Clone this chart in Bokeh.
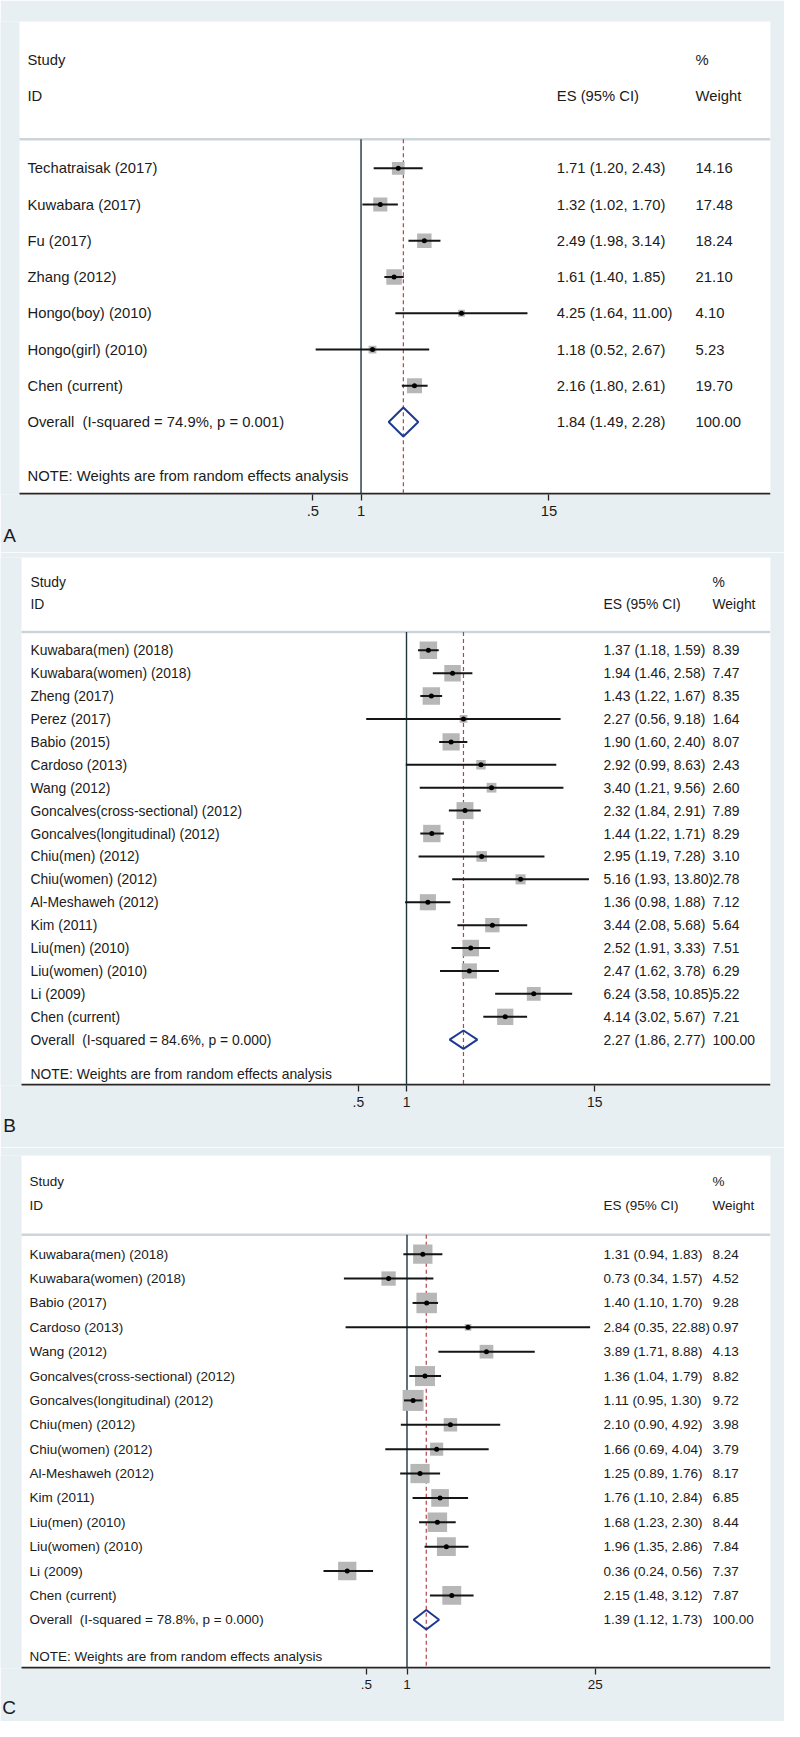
import math
from bokeh.plotting import figure
from bokeh.models import ColumnDataSource, Range1d, FixedTicker, LogAxis, CustomJSTickFormatter
from bokeh.layouts import column
from bokeh.core.properties import value
from bokeh.embed import file_html
from bokeh.resources import INLINE

# ---------------- data ----------------
# Panel A
studies_a = ["Techatraisak (2017)", "Kuwabara (2017)", "Fu (2017)", "Zhang (2012)",
             "Hongo(boy) (2010)", "Hongo(girl) (2010)", "Chen (current)"]
es_a = [1.71, 1.32, 2.49, 1.61, 4.25, 1.18, 2.16]
lo_a = [1.20, 1.02, 1.98, 1.40, 1.64, 0.52, 1.80]
hi_a = [2.43, 1.70, 3.14, 1.85, 11.00, 2.67, 2.61]
w_a = [14.16, 17.48, 18.24, 21.10, 4.10, 5.23, 19.70]
overall_a = [1.84, 1.49, 2.28]
i2_a, p_a = 74.9, 0.001
ticks_a = [0.5, 1, 15]
ticklabels_a = [".5", "1", "15"]

# Panel B
studies_b = ["Kuwabara(men) (2018)", "Kuwabara(women) (2018)", "Zheng (2017)", "Perez (2017)",
             "Babio (2015)", "Cardoso (2013)", "Wang (2012)", "Goncalves(cross-sectional) (2012)",
             "Goncalves(longitudinal) (2012)", "Chiu(men) (2012)", "Chiu(women) (2012)",
             "Al-Meshaweh (2012)", "Kim (2011)", "Liu(men) (2010)", "Liu(women) (2010)",
             "Li (2009)", "Chen (current)"]
es_b = [1.37, 1.94, 1.43, 2.27, 1.90, 2.92, 3.40, 2.32, 1.44, 2.95, 5.16, 1.36, 3.44, 2.52, 2.47, 6.24, 4.14]
lo_b = [1.18, 1.46, 1.22, 0.56, 1.60, 0.99, 1.21, 1.84, 1.22, 1.19, 1.93, 0.98, 2.08, 1.91, 1.62, 3.58, 3.02]
hi_b = [1.59, 2.58, 1.67, 9.18, 2.40, 8.63, 9.56, 2.91, 1.71, 7.28, 13.80, 1.88, 5.68, 3.33, 3.78, 10.85, 5.67]
w_b = [8.39, 7.47, 8.35, 1.64, 8.07, 2.43, 2.60, 7.89, 8.29, 3.10, 2.78, 7.12, 5.64, 7.51, 6.29, 5.22, 7.21]
overall_b = [2.27, 1.86, 2.77]
i2_b, p_b = 84.6, 0.000
ticks_b = [0.5, 1, 15]
ticklabels_b = [".5", "1", "15"]

# Panel C
studies_c = ["Kuwabara(men) (2018)", "Kuwabara(women) (2018)", "Babio (2017)", "Cardoso (2013)",
             "Wang (2012)", "Goncalves(cross-sectional) (2012)", "Goncalves(longitudinal) (2012)",
             "Chiu(men) (2012)", "Chiu(women) (2012)", "Al-Meshaweh (2012)", "Kim (2011)",
             "Liu(men) (2010)", "Liu(women) (2010)", "Li (2009)", "Chen (current)"]
es_c = [1.31, 0.73, 1.40, 2.84, 3.89, 1.36, 1.11, 2.10, 1.66, 1.25, 1.76, 1.68, 1.96, 0.36, 2.15]
lo_c = [0.94, 0.34, 1.10, 0.35, 1.71, 1.04, 0.95, 0.90, 0.69, 0.89, 1.10, 1.23, 1.35, 0.24, 1.48]
hi_c = [1.83, 1.57, 1.70, 22.88, 8.88, 1.79, 1.30, 4.92, 4.04, 1.76, 2.84, 2.30, 2.86, 0.56, 3.12]
w_c = [8.24, 4.52, 9.28, 0.97, 4.13, 8.82, 9.72, 3.98, 3.79, 8.17, 6.85, 8.44, 7.84, 7.37, 7.87]
overall_c = [1.39, 1.12, 1.73]
i2_c, p_c = 78.8, 0.000
ticks_c = [0.5, 1, 25]
ticklabels_c = [".5", "1", "25"]

note_text = "NOTE: Weights are from random effects analysis"
header_left = ["Study", "ID"]
header_right = ["%", "ES (95% CI)", "Weight"]
panel_letters = ["A", "B", "C"]

# ---------------- style ----------------
BG = "#e8eff3"
FONT = "Liberation Sans"
TXT = "#1b1b1b"
BOX = "#b7b7b7"
NULLC = "#1f3640"
RED = "#b5424a"
NAVY = "#1d3a8f"
SEP = "#cdd5d9"
AXC = "#2a2424"
PAGE_W = 784


def make_panel(names, es, lo, hi, w, overall, i2, pval, ticks, ticklabels, letter, g):
    n = len(names)
    H = g["height"]
    L, R, X1, K = g["L"], g["R"], g["X1"], g["K"]
    T, B = g["T"], g["B"]
    top_row, bot_row = -4.05, n + 2
    sep = -0.8

    def xd(px):
        return math.exp((px - X1) / K)

    p = figure(width=PAGE_W, height=H, x_axis_type="log",
               x_range=Range1d(xd(8), xd(R)), y_range=Range1d(bot_row, top_row),
               output_backend="svg", toolbar_location=None,
               min_border_left=0, min_border_right=PAGE_W + 8 - R,
               min_border_top=T - g["fig_top"], min_border_bottom=g["fig_top"] + H - B,
               background_fill_color=BG, border_fill_color=BG,
               outline_line_color=None, y_axis_location=None)
    p.xgrid.visible = False
    p.ygrid.visible = False

    # white plot panel
    p.quad(left=[xd(L)], right=[xd(R)], top=[top_row], bottom=[bot_row],
           fill_color="white", line_color=None)

    fs = g["fs"]
    ax = p.xaxis[0]
    ax.ticker = FixedTicker(ticks=ticks)
    ax.formatter = CustomJSTickFormatter(
        args=dict(t=ticks, l=ticklabels),
        code="for (let i = 0; i < t.length; i++) { if (Math.abs(t[i] - tick) < 1e-9) return l[i]; } return '';")
    ax.minor_tick_line_color = None
    ax.major_tick_in = 0
    ax.major_tick_out = 6
    ax.major_tick_line_color = AXC
    ax.major_tick_line_width = 1.3
    ax.axis_line_color = None
    ax.major_label_text_font = FONT
    ax.major_label_text_font_size = f"{fs}px"
    ax.major_label_text_color = TXT
    ax.major_label_standoff = 5

    # axis line across the white panel (half clipped at frame edge)
    p.segment(x0=[xd(L)], x1=[xd(R)], y0=[bot_row], y1=[bot_row],
              line_color=AXC, line_width=3.4)

    # panel letter as a second axis label
    ax2 = LogAxis(ticker=FixedTicker(ticks=[xd(g["letter_x"])]),
                  formatter=CustomJSTickFormatter(args=dict(s=letter), code="return s;"),
                  axis_line_color=None, major_tick_line_color=None,
                  minor_tick_line_color=None, major_tick_in=0, major_tick_out=0,
                  major_label_standoff=g["letter_standoff"],
                  major_label_text_font=FONT, major_label_text_font_size="19px",
                  major_label_text_color=TXT)
    p.add_layout(ax2, "below")

    # header separator
    p.segment(x0=[xd(L)], x1=[xd(R)], y0=[sep], y1=[sep], line_color=SEP, line_width=2.5)

    # null line and overall line
    p.segment(x0=[1], x1=[1], y0=[sep], y1=[bot_row], line_color=NULLC, line_width=1.4)
    p.segment(x0=[overall[0]], x1=[overall[0]], y0=[sep], y1=[bot_row],
              line_color=RED, line_width=1.2, line_dash="4 3")

    rows = list(range(n))
    wmax = max(w)
    src = ColumnDataSource(dict(
        y=rows, es=es, lo=lo, hi=hi,
        box=[g["maxbox"] * math.sqrt(v / wmax) for v in w]))
    p.scatter(x="es", y="y", size="box", marker="square", fill_color=BOX,
              line_color=None, source=src)
    p.segment(x0="lo", x1="hi", y0="y", y1="y", line_color="#151515",
              line_width=2, source=src)
    p.scatter(x="es", y="y", size=5, marker="circle", fill_color="black",
              line_color=None, source=src)

    # overall diamond
    h = 0.4
    ov_es, ov_lo, ov_hi = overall
    p.patch(x=[ov_lo, ov_es, ov_hi, ov_es, ov_lo], y=[n, n - h, n, n + h, n],
            fill_color=None, line_color=NAVY, line_width=2)

    # text columns
    labels = names + [f"Overall\u00a0 (I-squared = {i2:.1f}%, p = {pval:.3f})"]
    es_txt = [f"{e:.2f} ({a:.2f}, {b:.2f})" for e, a, b in zip(es, lo, hi)] + \
             [f"{ov_es:.2f} ({ov_lo:.2f}, {ov_hi:.2f})"]
    w_txt = [f"{v:.2f}" for v in w] + ["100.00"]
    tsrc = ColumnDataSource(dict(y=rows + [n], name=labels, est=es_txt, wt=w_txt))
    common = dict(text_font=value(FONT), text_font_size=value(f"{fs}px"),
                  text_color=TXT, text_baseline="middle", text_align="left")
    p.text(x=xd(g["name_x"]), y="y", text="name", source=tsrc, **common)
    p.text(x=xd(g["es_x"]), y="y", text="est", source=tsrc, **common)
    p.text(x=xd(g["w_x"]), y="y", text="wt", source=tsrc, **common)

    hsrc = ColumnDataSource(dict(
        x=[xd(g["name_x"]), xd(g["name_x"]), xd(g["w_x"]), xd(g["es_x"]), xd(g["w_x"])],
        y=[-3, -2, -3, -2, -2],
        t=header_left + header_right))
    p.text(x="x", y="y", text="t", source=hsrc, **common)
    p.text(x=[xd(g["name_x"])], y=[n + 1.5], text=[note_text], **common)
    return p


gA = dict(height=552, fig_top=8, T=29, B=502, L=27, R=779, X1=369, K=69.5,
          fs=14.8, name_x=35, es_x=565, w_x=704, maxbox=15.5,
          letter_x=17, letter_standoff=6)
gB = dict(height=595, fig_top=560, T=565, B=1093, L=29, R=778, X1=414, K=69.5,
          fs=13.9, name_x=38, es_x=611, w_x=720, maxbox=17.5,
          letter_x=17, letter_standoff=5)
gC = dict(height=574, fig_top=1155, T=1163, B=1676, L=29, R=778, X1=414.5, K=58.5,
          fs=13.5, name_x=37, es_x=611, w_x=720, maxbox=21,
          letter_x=16.5, letter_standoff=5)

pA = make_panel(studies_a, es_a, lo_a, hi_a, w_a, overall_a, i2_a, p_a,
                ticks_a, ticklabels_a, panel_letters[0], gA)
pB = make_panel(studies_b, es_b, lo_b, hi_b, w_b, overall_b, i2_b, p_b,
                ticks_b, ticklabels_b, panel_letters[1], gB)
pC = make_panel(studies_c, es_c, lo_c, hi_c, w_c, overall_c, i2_c, p_c,
                ticks_c, ticklabels_c, panel_letters[2], gC)

p = column(pA, pB, pC, spacing=0)
open("out.html", "w").write(file_html(p, INLINE))
